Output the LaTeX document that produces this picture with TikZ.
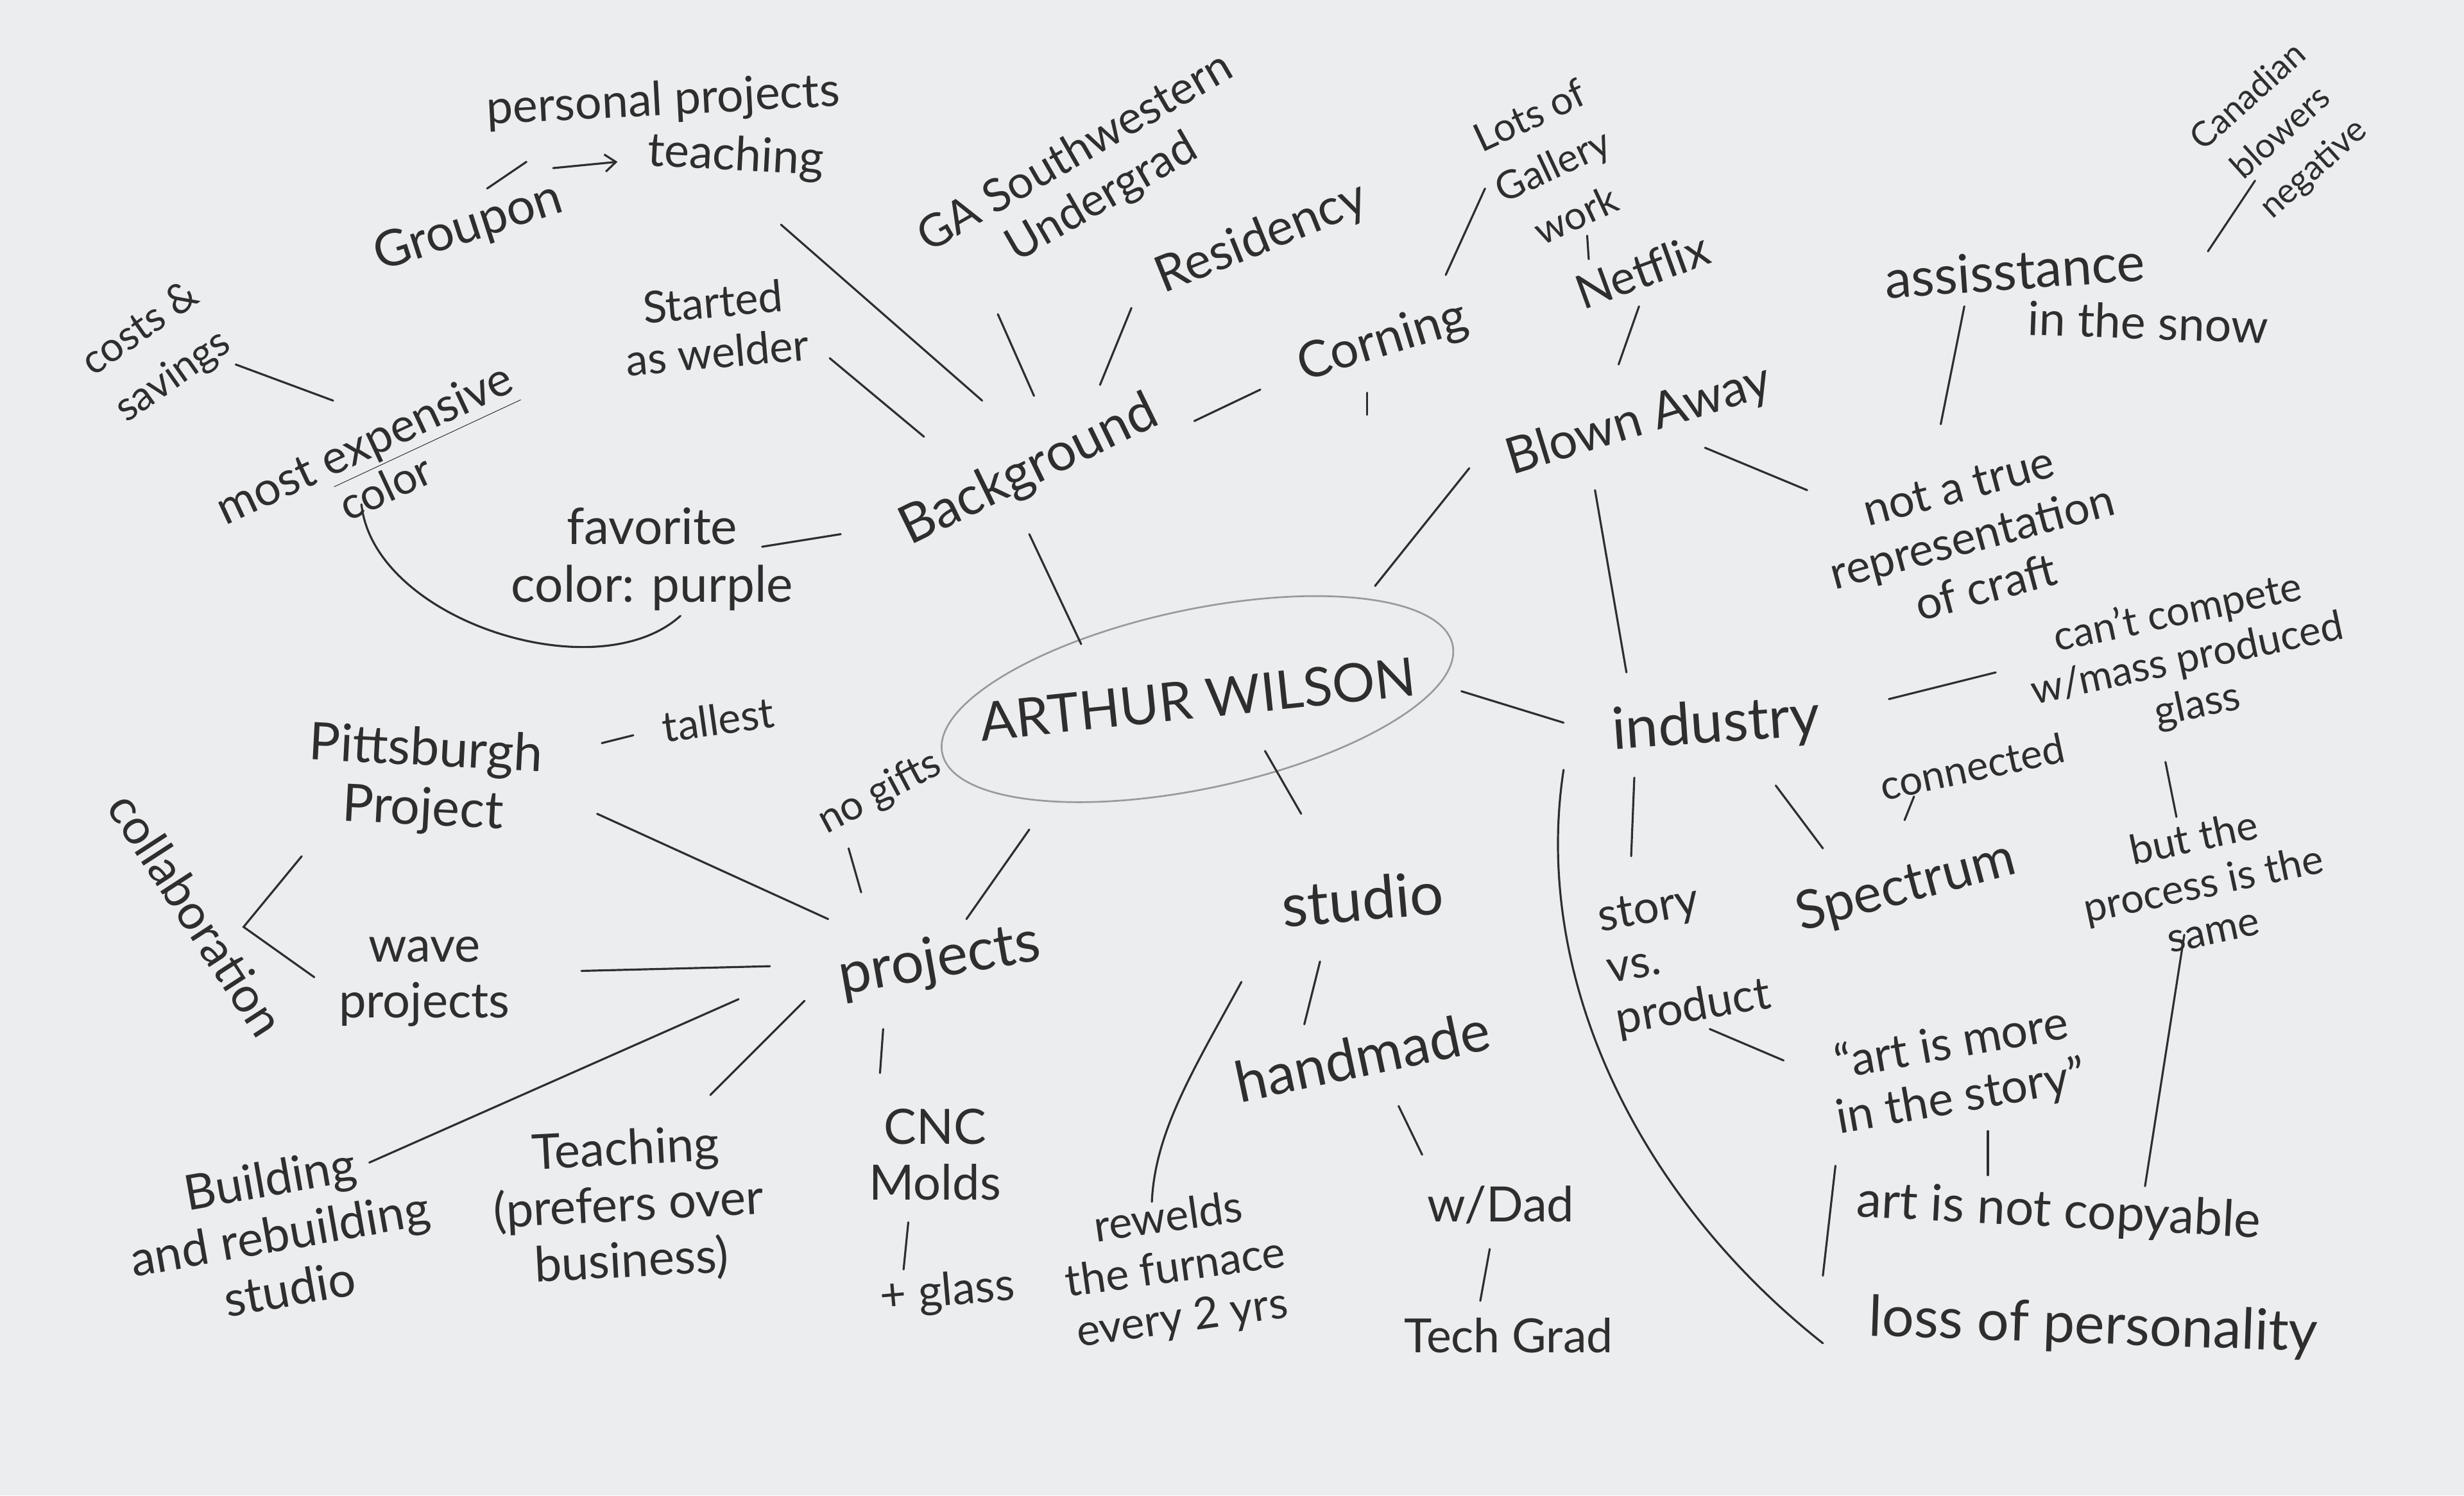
\documentclass[tikz,border=0pt]{standalone}
\usepackage{fontspec}
\setmainfont{Lato}
\usetikzlibrary{calc,arrows.meta,shapes.geometric}
\definecolor{bgc}{HTML}{ECEDEF}
\definecolor{ink}{HTML}{2E2E2E}
\definecolor{ring}{HTML}{9A9A9A}
\begin{document}
\begin{tikzpicture}[x=1pt,y=-1pt,
  every node/.style={text=ink, inner sep=2pt, align=center},
  fs/.style={font={\fontsize{#1}{#1}\selectfont\setlength{\baselineskip}{1.15\baselineskip}}},
  fw/.style={font={\fontsize{#1}{#1}\selectfont\setlength{\baselineskip}{1.4\baselineskip}}},
  conn/.style={draw=ink, line width=1.3pt, line cap=round}]
\fill[bgc] (0,0) rectangle (1568,952);
\useasboundingbox (0,0) rectangle (1568,952);

% nodes
\node[fs=30, rotate=3] (pp) at (422,65) {personal projects};
\node[fs=32, rotate=18] (groupon) at (298,145) {Groupon};
\node[fs=30, rotate=-3] (teach) at (468,100) {teaching};
\node[fs=29, rotate=30] (ga) at (693,112) {GA Southwestern\\Undergrad};
\node[fs=32, rotate=22] (res) at (803,152) {Residency};
\node[fw=25, rotate=25] (lots) at (988,105) {Lots of\\Gallery\\work};
\node[fs=30, rotate=20] (netflix) at (1045,172) {Netflix};
\node[fs=32, rotate=17] (corning) at (880,218) {Corning};
\node[fs=32, rotate=17] (blown) at (1043,268) {Blown Away};
\node[fs=34, rotate=4] (assist) at (1282,172) {assisstance};
\node[fs=30, rotate=-2] (snow) at (1367,205) {in the snow};
\node[fw=22, rotate=42] (canad) at (1452,85) {Canadian\\blowers\\negative};
\node[fs=29, rotate=15] (nottrue) at (1255,342) {not a true\\representation\\of craft};
\node[fs=34, rotate=26] (bg) at (655,300) {Background};
\node[fs=28, rotate=5] (welder) at (455,208) {Started\\as welder};
\node[fw=26, rotate=35] (costs) at (100,225) {costs \&\\savings};
\node[fs=30, rotate=25] (mostexp) at (233,285) {most \underline{expensive}};
\node[fs=28, rotate=25] (mecolor) at (245,310) {color};
\node[fs=32] (fav) at (415,356) {favorite\\color: purple};
\node[fs=34, rotate=6] (arthur) at (762,445) {ARTHUR WILSON};
\node[fs=26, rotate=28] (nogifts) at (560,505) {no gifts};
\node[fs=37, rotate=4] (industry) at (1092,462) {industry};
\node[fs=26, rotate=12] (compete) at (1392,420) {can't compete\\w/mass produced\\glass};
\node[fs=26, rotate=12] (connected) at (1255,488) {connected};
\node[fs=34, rotate=15] (spectrum) at (1213,565) {Spectrum};
\node[fs=26, rotate=12] (butthe) at (1402,562) {but the\\process is the\\same};
\node[fs=29, rotate=10, align=left] (story) at (1072,610) {story\\vs.\\product};
\node[fs=30, rotate=10] (artmore) at (1245,682) {``art is more\\in the story''};
\node[fs=32, rotate=-3] (copy) at (1310,772) {art is not copyable};
\node[fs=36, rotate=-2] (loss) at (1332,845) {loss of personality};
\node[fs=38, rotate=5] (studio) at (867,572) {studio};
\node[fs=36, rotate=12] (handmade) at (867,672) {handmade};
\node[fs=31] (dad) at (955,767) {w/Dad};
\node[fs=30] (tech) at (960,850) {Tech Grad};
\node[fs=28, rotate=8] (rewelds) at (748,808) {rewelds\\the furnace\\every 2 yrs};
\node[fs=37, rotate=10] (projects) at (598,612) {projects};
\node[fs=31] (cnc) at (595,735) {CNC\\Molds};
\node[fs=29, rotate=5] (glass2) at (603,823) {+ glass};
\node[fs=31, rotate=3] (teaching2) at (400,768) {Teaching\\(prefers over\\business)};
\node[fs=31, rotate=10] (building) at (178,785) {Building\\and rebuilding\\studio};
\node[fs=31] (wave) at (270,625) {wave\\projects};
\node[fs=33, rotate=-3] (pitts) at (270,497) {Pittsburgh\\Project};
\node[fs=27, rotate=8] (tallest) at (457,458) {tallest};
\node[fs=31, rotate=-57] (collab) at (125,582) {collaboration};

% ring round the central name
\draw[draw=ring, line width=1.1pt, rotate around={12:(arthur.center)}] (arthur.center) ellipse [x radius=166pt, y radius=57pt];

% connectors
\draw[conn] ($(groupon)+(12,-25)$) -- ($(pp)+(-87,38)$);
\draw[conn, -{Straight Barb[length=7pt,width=11pt]}] ($(groupon)+(54,-38)$) -- ($(teach)+(-75,3)$);
\draw[conn] ($(teach)+(29,43)$) -- ($(bg)+(-30,-45)$);
\draw[conn] ($(ga)+(-58,88)$) -- ($(bg)+(3,-48)$);
\draw[conn] ($(res)+(-83,44)$) -- ($(bg)+(45,-55)$);
\draw[conn] ($(welder)+(73,20)$) -- ($(bg)+(-67,-22)$);
\draw[conn] ($(bg)+(105,-32)$) -- ($(corning)+(-78,30)$);
\draw[conn] ($(corning)+(40,-43)$) -- ($(lots)+(-43,15)$);
\draw[conn] ($(corning)+(-10,32)$) -- ++(0,14);
\draw[conn] ($(lots)+(22,45)$) -- ($(netflix)+(-34,-7)$);
\draw[conn] ($(netflix)+(-2,23)$) -- ($(blown)+(-13,-36)$);
\draw[conn] ($(blown)+(-108,30)$) -- ($(arthur)+(113,-72)$);
\draw[conn] ($(blown)+(-28,44)$) -- ($(industry)+(-57,-34)$);
\draw[conn] ($(blown)+(42,17)$) -- ($(nottrue)+(-105,-30)$);
\draw[conn] ($(assist)+(-32,23)$) -- ($(nottrue)+(-20,-72)$);
\draw[conn] ($(assist)+(123,-12)$) -- ($(canad)+(-17,30)$);
\draw[conn] ($(bg)+(0,40)$) -- ($(arthur)+(-74,-35)$);
\draw[conn] ($(fav)+(70,-8)$) -- ($(bg)+(-120,40)$);
\draw[conn] ($(mecolor)+(-15,11)$) .. controls ($(mecolor)+(-7,85)$) and ($(fav)+(-35,84)$) .. ($(fav)+(18,36)$);
\draw[conn] ($(costs)+(50,7)$) -- ($(mostexp)+(-21,-30)$);
\draw[conn] ($(arthur)+(168,-5)$) -- ($(industry)+(-97,-2)$);
\draw[conn] ($(industry)+(110,-17)$) -- ($(compete)+(-122,8)$);
\draw[conn] ($(industry)+(-52,33)$) -- ($(story)+(-34,-65)$);
\draw[conn] ($(industry)+(38,38)$) -- ($(spectrum)+(-53,-25)$);
\draw[conn] ($(connected)+(-37,19)$) -- ($(spectrum)+(-1,-43)$);
\draw[conn] ($(compete)+(-14,65)$) -- ($(butthe)+(-17,-42)$);
\draw[conn] ($(story)+(16,45)$) -- ($(artmore)+(-110,-7)$);
\draw[conn] ($(artmore)+(20,38)$) -- ($(copy)+(-45,-24)$);
\draw[conn] ($(butthe)+(-12,33)$) -- ($(copy)+(55,-17)$);
\draw[conn] ($(industry)+(-97,28)$) .. controls ($(industry)+(-117,158)$) and ($(loss)+(-292,-85)$) .. ($(loss)+(-172,10)$);
\draw[conn] ($(artmore)+(-77,60)$) -- ($(loss)+(-172,-33)$);
\draw[conn] ($(arthur)+(43,33)$) -- ($(studio)+(-39,-54)$);
\draw[conn] ($(studio)+(-27,40)$) -- ($(handmade)+(-37,-20)$);
\draw[conn] ($(studio)+(-77,53)$) .. controls ($(studio)+(-107,108)$) and ($(rewelds)+(-13,-88)$) .. ($(rewelds)+(-15,-43)$);
\draw[conn] ($(handmade)+(23,32)$) -- ($(dad)+(-50,-32)$);
\draw[conn] ($(dad)+(-7,28)$) -- ($(tech)+(-18,-22)$);
\draw[conn] ($(arthur)+(-107,83)$) -- ($(projects)+(17,-27)$);
\draw[conn] ($(nogifts)+(-20,35)$) -- ($(projects)+(-50,-44)$);
\draw[conn] ($(pitts)+(110,21)$) -- ($(projects)+(-71,-27)$);
\draw[conn] ($(wave)+(100,-7)$) -- ($(projects)+(-108,3)$);
\draw[conn] ($(projects)+(-128,24)$) -- ($(building)+(57,-45)$);
\draw[conn] ($(projects)+(-86,25)$) -- ($(teaching2)+(52,-71)$);
\draw[conn] ($(projects)+(-36,43)$) -- ($(cnc)+(-35,-52)$);
\draw[conn] ($(cnc)+(-17,43)$) -- ($(glass2)+(-28,-15)$);
\draw[conn] ($(pitts)+(113,-24)$) -- ($(tallest)+(-54,10)$);
\draw[conn] ($(pitts)+(-78,48)$) -- ($(collab)+(30,8)$) -- ($(wave)+(-70,-3)$);
\end{tikzpicture}
\end{document}
